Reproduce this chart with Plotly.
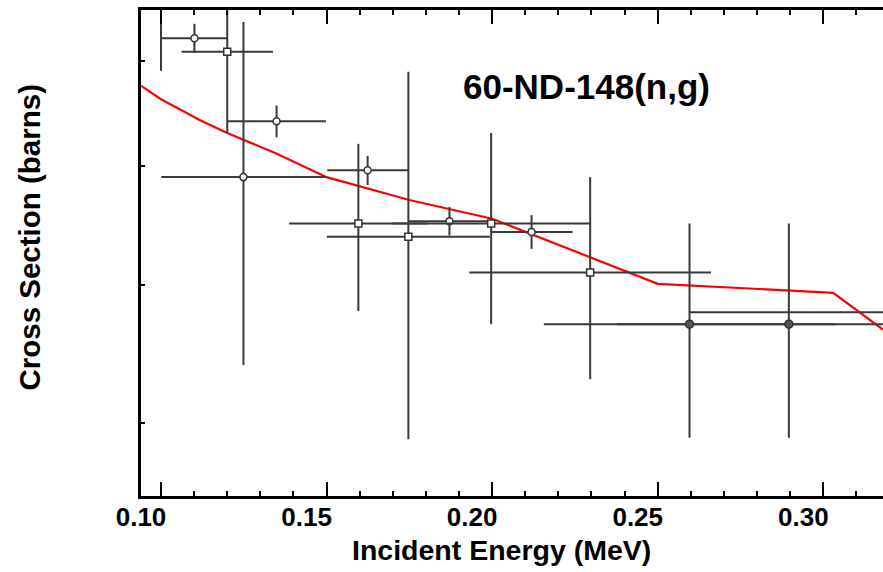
import plotly.graph_objects as go

# ---- data (energies in MeV, cross sections in barns) ----
# open-circle data set
e_circ = [0.1101, 0.1249, 0.1349, 0.1624, 0.1871, 0.2119]
s_circ = [0.0923, 0.0790, 0.0841, 0.0796, 0.0752, 0.0743]
de_circ = [0.0100, 0.0248, 0.0149, 0.0122, 0.0125, 0.0124]
ds_circ = [0.0015, 0.0150, 0.0015, 0.0013, 0.0012, 0.0014]

# open-square data set
e_sq = [0.1200, 0.1596, 0.1747, 0.1997, 0.2296]
s_sq = [0.0909, 0.0750, 0.0739, 0.0750, 0.0710]
de_sq = [0.0138, 0.0209, 0.0246, 0.0298, 0.0365]
ds_sq = [0.0079, 0.0070, 0.0150, 0.0080, 0.0080]

# dark-circle data set
e_dk = [0.1000, 0.2596, 0.2896, 0.3300]
s_dk = [0.0975, 0.0670, 0.0670, 0.0679]
de_dk = [0.0100, 0.0440, 0.0519, 0.0706]
ds_dk = [0.0085, 0.0080, 0.0080, 0.0080]

# evaluated curve
e_eval = [0.0940, 0.1000, 0.1118, 0.1200, 0.1350, 0.1500, 0.1750, 0.2000, 0.2500, 0.3030, 0.3180]
s_eval = [0.0875, 0.0862, 0.0842, 0.0830, 0.0811, 0.0790, 0.0770, 0.0754, 0.0701, 0.0694, 0.0666]

x_ticks = [0.10, 0.15, 0.20, 0.25, 0.30]
x_labels = ["0.10", "0.15", "0.20", "0.25", "0.30"]
y_ticks = [0.06, 0.07, 0.08, 0.09]

FONT = "Liberation Sans, Arial, Helvetica, sans-serif"
ERRC = "#3a3a3a"

fig = go.Figure()

fig.add_trace(go.Scatter(
    x=e_eval, y=s_eval, mode="lines",
    line=dict(color="#ff0000", width=2.2), showlegend=False))

def add_set(xs, ys, dxs, dys, symbol, color, fill, size):
    fig.add_trace(go.Scatter(
        x=xs, y=ys, mode="markers",
        marker=dict(symbol=symbol, size=size, color=fill,
                    line=dict(color=color, width=1.5)),
        error_x=dict(type="data", array=dxs, symmetric=True,
                     color=ERRC, thickness=2, width=0),
        error_y=dict(type="data", array=dys, symmetric=True,
                     color=ERRC, thickness=2, width=0),
        showlegend=False))

add_set(e_circ, s_circ, de_circ, ds_circ, "circle", "#333333", "white", 7)
add_set(e_sq, s_sq, de_sq, ds_sq, "square", "#333333", "white", 7)
add_set(e_dk, s_dk, de_dk, ds_dk, "circle", "#333333", "#555555", 8)

fig.update_layout(
    width=883, height=572,
    margin=dict(l=141, r=0, t=10, b=76),
    paper_bgcolor="white", plot_bgcolor="white",
    font=dict(family=FONT, color="black"),
    xaxis=dict(
        range=[0.09396, 0.31803],
        tickmode="array", tickvals=x_ticks, ticktext=x_labels,
        ticks="inside", ticklen=14, tickwidth=2, tickcolor="black",
        minor=dict(tickmode="linear", tick0=0.10, dtick=0.01,
                   ticks="inside", ticklen=5, tickwidth=2, tickcolor="black"),
        showline=True, linewidth=3, linecolor="black", mirror="allticks",
        showgrid=False, zeroline=False,
        tickfont=dict(size=26, family=FONT, weight="bold"),
        ticklabelshift=-20,
        ticklabelstandoff=-4,
    ),
    yaxis=dict(
        type="log", range=[-1.25749, -1.02108],
        tickmode="array", tickvals=y_ticks, showticklabels=False,
        ticks="inside", ticklen=4, tickwidth=2, tickcolor="black",
        showline=True, linewidth=2.5, linecolor="black", mirror=False,
        showgrid=False, zeroline=False,
    ),
    annotations=[
        dict(text="60-ND-148(n,g)", xref="paper", yref="paper",
             x=0.6004, y=0.8416, xanchor="center", yanchor="middle",
             showarrow=False, font=dict(size=35, family=FONT, weight="bold")),
        dict(text="Incident Energy (MeV)", xref="paper", yref="paper",
             x=0.4865, y=-0.111, xanchor="center", yanchor="middle",
             showarrow=False, font=dict(size=28.5, family=FONT, weight="bold")),
        dict(text="Cross Section (barns)", xref="paper", yref="paper",
             x=-0.1509, y=0.5319, xanchor="center", yanchor="middle",
             textangle=-90,
             showarrow=False, font=dict(size=29.5, family=FONT, weight="bold")),
    ],
)

fig.write_html("out.html", config={"displayModeBar": False},
               post_script="document.body.style.margin='0';")
